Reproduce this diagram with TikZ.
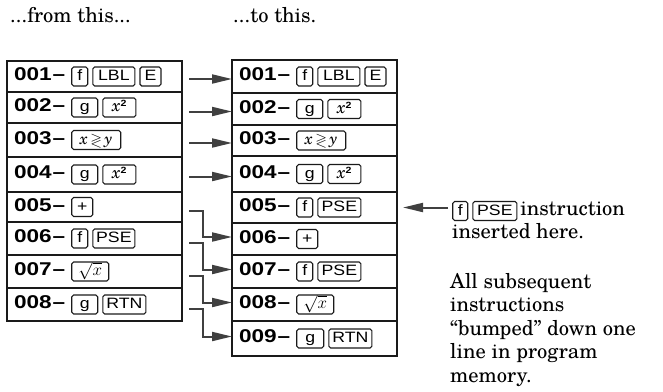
\RequirePackage{fix-cm}
\documentclass[tikz,border=0pt]{standalone}
\usepackage{amssymb}
\usepackage{fontspec}
\setmainfont{texgyreschola}[Extension=.otf,UprightFont=*-regular,BoldFont=*-bold,ItalicFont=*-italic,BoldItalicFont=*-bolditalic]
\newfontfamily\keyfont{Liberation Sans}[FakeStretch=1.18]
\newfontfamily\numfont{Liberation Sans}[FakeStretch=1.22]
\usetikzlibrary{arrows.meta}
\definecolor{ink}{HTML}{1A1A1A}
\definecolor{arrowgray}{HTML}{404040}
\tikzset{
  keybox/.style={draw=ink,line width=1.1pt,rounded corners=1.8pt,inner xsep=2pt,inner ysep=0pt,
    minimum height=19pt,text height=11pt,text depth=3pt,font=\keyfont\mdseries\fontsize{15}{15}\selectfont},
  rowbox/.style={draw=ink,line width=1.9pt,outer sep=0pt,inner xsep=7pt,inner ysep=0pt,align=left,
    font=\numfont\bfseries\fontsize{18.5}{21}\selectfont},
  lrow/.style={rowbox,text width=161pt},
  rrow/.style={rowbox,text width=151pt},
  frame/.style={draw=ink,line width=2.6pt},
  txt/.style={font=\fontsize{20.5}{23.5}\selectfont,inner sep=0pt},
  arr/.style={draw=arrowgray,line width=2pt,-{Triangle[length=20pt,width=9pt]}}
}
\newcommand{\kb}[2][16pt]{\tikz[baseline=(kb.base)]\node[keybox,minimum width=#1](kb){#2};}
\newcommand{\ks}{\kern4pt}
\newcommand{\rn}[1]{#1\kern1pt–\kern6pt}
\newcommand{\xsq}{{\rmfamily\mdseries\itshape\fontsize{17}{17}\selectfont x}\raisebox{5pt}{\fontsize{9}{9}\selectfont\bfseries 2}}
\newcommand{\xgy}{{\rmfamily\mdseries\itshape\fontsize{16}{16}\selectfont x}\,$\gtrless$\,{\rmfamily\mdseries\itshape\fontsize{16}{16}\selectfont y}}
\newcommand{\sqx}{{\mdseries\fontsize{17}{17}\selectfont$\sqrt{x}$}}
\begin{document}
\begin{tikzpicture}[x=1pt,y=-1pt]
\useasboundingbox (0,0) rectangle (663,391);
\node[txt,anchor=base west] (h1) at (10,22) {...from this...};
\node[txt,anchor=base west] (h2) at (233,22) {...to this.};
% left table
\node[lrow,minimum height=31pt] (L1) at (94.5,76.5) {\rn{001}\kb{f}\ks\kb[42pt]{LBL}\ks\kb[21pt]{E}};
\node[lrow,minimum height=31pt] (L2) at (94.5,107.5) {\rn{002}\kb[26pt]{g}\ks\kb[33pt]{\xsq}};
\node[lrow,minimum height=34pt] (L3) at (94.5,140) {\rn{003}\kb[49pt]{\xgy}};
\node[lrow,minimum height=35pt] (L4) at (94.5,174.5) {\rn{004}\kb[26pt]{g}\ks\kb[33pt]{\xsq}};
\node[lrow,minimum height=30pt] (L5) at (94.5,207) {\rn{005}\kb[21pt]{+}};
\node[lrow,minimum height=33pt] (L6) at (94.5,238.5) {\rn{006}\kb{f}\ks\kb[42pt]{PSE}};
\node[lrow,minimum height=33pt] (L7) at (94.5,271.5) {\rn{007}\kb[37pt]{\sqx}};
\node[lrow,minimum height=33pt] (L8) at (94.5,304.5) {\rn{008}\kb[26pt]{g}\ks\kb[43pt]{RTN}};
\draw[frame] (L1.north west) rectangle (L8.south east);
% right table
\node[rrow,minimum height=33pt] (R1) at (314.5,76.5) {\rn{001}\kb{f}\ks\kb[42pt]{LBL}\ks\kb[21pt]{E}};
\node[rrow,minimum height=32pt] (R2) at (314.5,109) {\rn{002}\kb[26pt]{g}\ks\kb[33pt]{\xsq}};
\node[rrow,minimum height=31pt] (R3) at (314.5,140.5) {\rn{003}\kb[49pt]{\xgy}};
\node[rrow,minimum height=36pt] (R4) at (314.5,174) {\rn{004}\kb[26pt]{g}\ks\kb[33pt]{\xsq}};
\node[rrow,minimum height=31pt] (R5) at (314.5,207.5) {\rn{005}\kb{f}\ks\kb[43pt]{PSE}};
\node[rrow,minimum height=32pt] (R6) at (314.5,239) {\rn{006}\kb[21pt]{+}};
\node[rrow,minimum height=33pt] (R7) at (314.5,271.5) {\rn{007}\kb{f}\ks\kb[43pt]{PSE}};
\node[rrow,minimum height=33pt] (R8) at (314.5,304.5) {\rn{008}\kb[37pt]{\sqx}};
\node[rrow,minimum height=35pt] (R9) at (314.5,338.5) {\rn{009}\kb[27pt]{g}\ks\kb[43pt]{RTN}};
\draw[frame] (R1.north west) rectangle (R9.south east);
% straight arrows
\foreach \i in {1,...,4} {
  \path (L\i.east) ++(7,0) coordinate (s\i);
  \draw[arr] ([yshift=-2.5pt]s\i |- R\i.west) -- ([yshift=-2.5pt]R\i.west);
}
% bent arrows
\foreach \i/\j in {5/6,6/7,7/8,8/9} {
  \draw[arr] ([xshift=7pt,yshift=-4pt]L\i.east) -- ++(14,0) |- ([yshift=2pt]R\j.west);
}
% notes
\node[txt,anchor=base west] (ins1) at (452,215) {\kb[15pt]{f}\ks\kb[44pt]{PSE}\kern3pt instruction};
\node[txt,anchor=base west] (ins2) at (452,238.5) {inserted here.};
\path (R5.east) ++(6,0) coordinate (t5);
\path (ins1.west |- R5.east) ++(-4,0) coordinate (a5);
\draw[arr] (a5) -- (t5);
\node[txt,anchor=base west,align=left] (sub) at (450,382) {All subsequent\\instructions\\“bumped” down one\\line in program\\memory.};
\end{tikzpicture}
\end{document}
